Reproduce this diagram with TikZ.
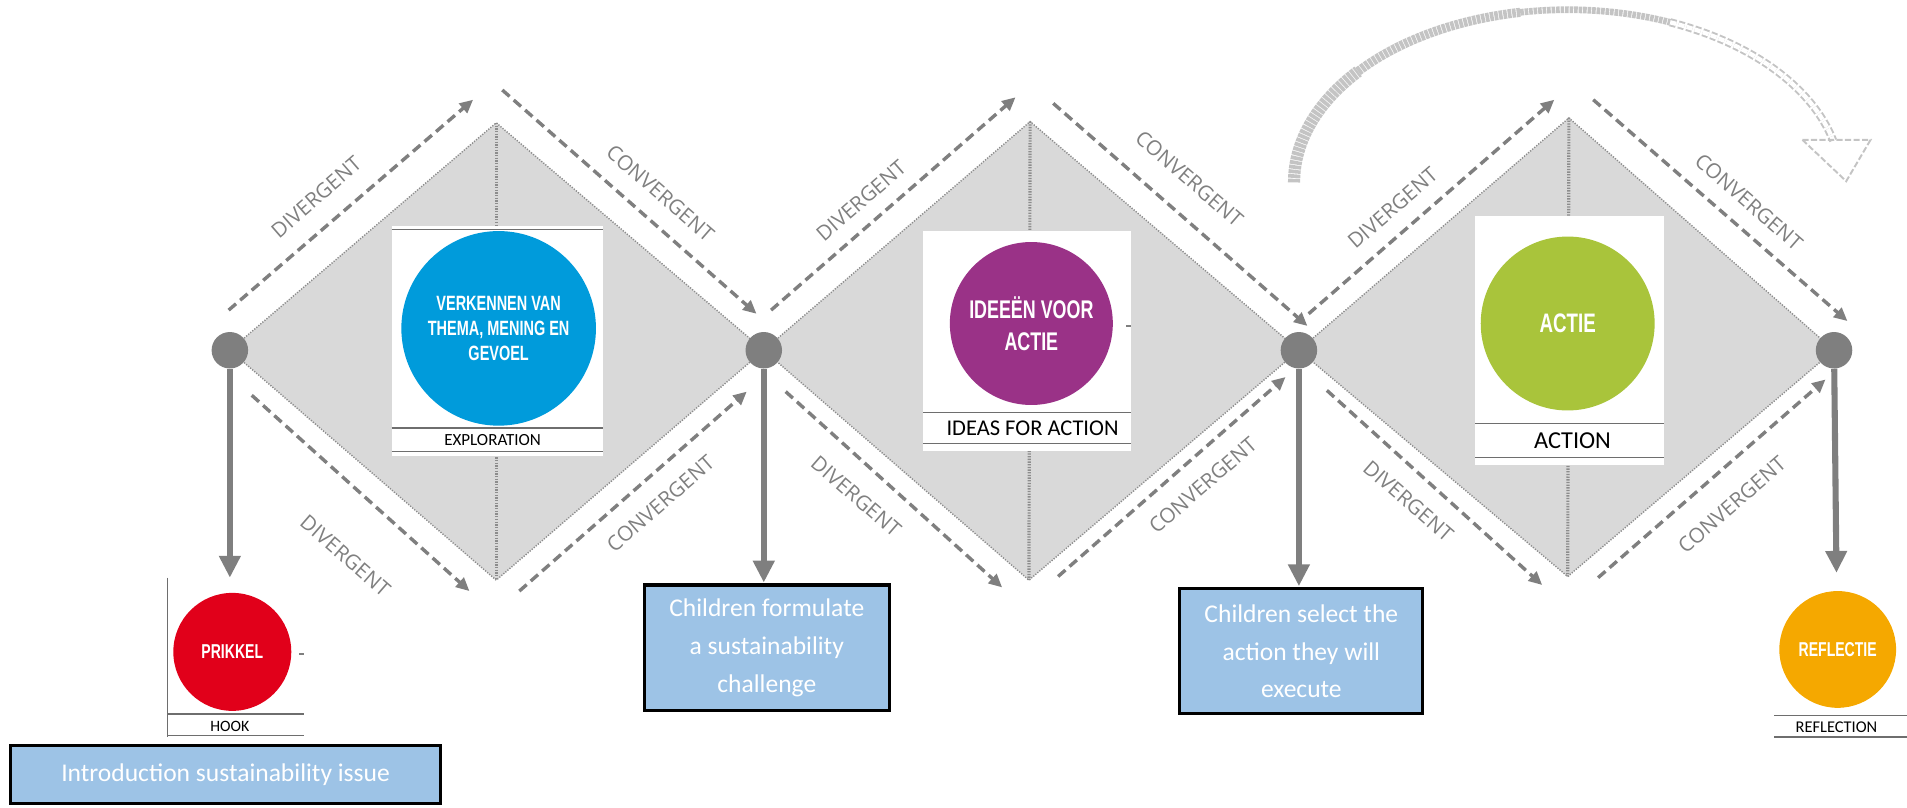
\documentclass[tikz,border=0pt]{standalone}
\usepackage{fontspec}
\setmainfont{Carlito}
\newfontfamily\labfont{Open Sans}
\newfontfamily\dinfont[FakeStretch=0.7]{Liberation Sans}
\usetikzlibrary{arrows.meta}

\definecolor{hubgray}{HTML}{7F7F7F}
\definecolor{labgray}{HTML}{808080}
\definecolor{sheetgray}{HTML}{D9D9D9}
\definecolor{rimgray}{HTML}{8C8C8C}
\definecolor{linegray}{HTML}{6E6E6E}
\definecolor{arcgray}{HTML}{C4C4C4}
\definecolor{exploreblue}{HTML}{009BDB}
\definecolor{ideapurple}{HTML}{9A3287}
\definecolor{actgreen}{HTML}{A9C43B}
\definecolor{hookred}{HTML}{E1001A}
\definecolor{reflectorange}{HTML}{F5A800}
\definecolor{noteblue}{HTML}{9DC3E6}

\begin{document}
\begin{tikzpicture}[x=1pt, y=1pt,
  hub/.style = {circle, fill=hubgray, minimum size=30pt, inner sep=0pt},
  sheet/.style = {fill=sheetgray},
  rim/.style = {draw=rimgray, line width=1.2pt, dash pattern=on 1pt off 1.2pt},
  spine/.style = {draw=rimgray, line width=2.6pt, dash pattern=on 1.1pt off 1.1pt},
  flow/.style = {draw=hubgray, line width=2.8pt, dash pattern=on 8pt off 4.5pt, -{Triangle[length=11pt, width=10pt]}},
  drop/.style = {draw=hubgray, line width=5pt, -{Triangle[length=18pt, width=17pt]}},
  lab/.style = {font=\labfont\fontsize{17}{17}\selectfont, text=labgray, inner sep=0pt},
  card/.style = {fill=white},
  cardline/.style = {draw=linegray, line width=1pt},
  stage/.style = {circle, inner sep=0pt, text=white, align=center},
  caption/.style = {inner sep=0pt, text=black},
  note/.style = {draw=black, line width=2.5pt, fill=noteblue, text=white, align=center, inner sep=0pt, font=\fontsize{21}{31}\selectfont},
  arcband/.style = {draw=arcgray, dash pattern=on 3pt off 0.7pt},
  arcghost/.style = {draw=arcgray, line width=1.6pt, double=white, double distance=3.5pt, dash pattern=on 5pt off 2pt}]

\useasboundingbox (0,0) rectangle (1568,664);

\coordinate (P1) at (189,376);
\coordinate (P2) at (628,376);
\coordinate (P3) at (1068,376);
\coordinate (P4) at (1508,376);

% exploration
\begin{scope}[xshift=408]
\coordinate (T) at (0,563);
\coordinate (B) at (0,187);
\fill[sheet] (P1) -- (T) -- (P2) -- (B) -- cycle;
\draw[rim] (P1) -- (T) -- (P2) -- (B) -- cycle;
\draw[spine] (T) -- (B);

\coordinate (ULs) at (-220,409);
\coordinate (ULe) at (-19,582);
\coordinate (URs) at (5,590);
\coordinate (URe) at (214,406);
\coordinate (LLs) at (-201,339);
\coordinate (LLe) at (-22,178);
\coordinate (LRs) at (19,178);
\coordinate (LRe) at (206,342);

\draw[flow] (ULs) -- (ULe);
\draw[flow] (URs) -- (URe);
\draw[flow] (LLs) -- (LLe);
\draw[flow] (LRs) -- (LRe);

\node[lab, rotate=41] (UL) at (-148,502) {DIVERGENT};
\node[lab, rotate=-41] (UR) at (135,505) {CONVERGENT};
\node[lab, rotate=-41] (LL) at (-124,207) {DIVERGENT};
\node[lab, rotate=41] (LR) at (135,250) {CONVERGENT};

\fill[card] (-86,289) rectangle (88,478);
\draw[cardline] (-86,475) -- (88,475);
\draw[cardline] (-86,312) -- (88,312);
\draw[cardline] (-86,293) -- (88,293);
\node[stage, fill=exploreblue, minimum size=160pt, font=\dinfont\bfseries\fontsize{17}{20.6}\selectfont] (explore) at (2,394) {VERKENNEN VAN\\THEMA, MENING EN\\GEVOEL};
\node[caption, font=\fontsize{14}{14}\selectfont] (exploreC) at (-3,302) {EXPLORATION};
\end{scope}

% ideas for action
\begin{scope}[xshift=848]
\coordinate (T) at (-1,564);
\coordinate (B) at (-2,187);
\fill[sheet] (P2) -- (T) -- (P3) -- (B) -- cycle;
\draw[rim] (P2) -- (T) -- (P3) -- (B) -- cycle;
\draw[spine] (T) -- (B);

\coordinate (ULs) at (-214,409);
\coordinate (ULe) at (-13,584);
\coordinate (URs) at (18,579);
\coordinate (URe) at (227,396);
\coordinate (LLs) at (-202,342);
\coordinate (LLe) at (-24,181);
\coordinate (LRs) at (22,190);
\coordinate (LRe) at (209,354);

\draw[flow] (ULs) -- (ULe);
\draw[flow] (URs) -- (URe);
\draw[flow] (LLs) -- (LLe);
\draw[flow] (LRs) -- (LRe);

\node[lab, rotate=41] (UL) at (-140,499) {DIVERGENT};
\node[lab, rotate=-41] (UR) at (130,517) {CONVERGENT};
\node[lab, rotate=-41] (LL) at (-144,256) {DIVERGENT};
\node[lab, rotate=41] (LR) at (141,265) {CONVERGENT};

\fill[card] (-89,293) rectangle (82,474);
\draw[cardline] (-89,325) -- (82,325);
\draw[cardline] (-89,299.5) -- (82,299.5);
\draw[hubgray, line width=1.5pt] (78,396) -- (82,396);
\node[stage, fill=ideapurple, minimum size=134pt, font=\dinfont\bfseries\fontsize{21}{26}\selectfont] (ideas) at (0,398) {IDEEËN VOOR\\ACTIE};
\node[caption, font=\fontsize{18.5}{18.5}\selectfont] (ideasC) at (1,312) {IDEAS FOR ACTION};
\end{scope}

% action
\begin{scope}[xshift=1288]
\coordinate (T) at (2,567);
\coordinate (B) at (1,190);
\fill[sheet] (P3) -- (T) -- (P4) -- (B) -- cycle;
\draw[rim] (P3) -- (T) -- (P4) -- (B) -- cycle;
\draw[spine] (T) -- (B);

\coordinate (ULs) at (-212,406);
\coordinate (ULe) at (-10,582);
\coordinate (URs) at (22,582);
\coordinate (URe) at (231,400);
\coordinate (LLs) at (-197,343);
\coordinate (LLe) at (-20,183);
\coordinate (LRs) at (26,189);
\coordinate (LRe) at (213,352);

\draw[flow] (ULs) -- (ULe);
\draw[flow] (URs) -- (URe);
\draw[flow] (LLs) -- (LLe);
\draw[flow] (LRs) -- (LRe);

\node[lab, rotate=41] (UL) at (-143,493) {DIVERGENT};
\node[lab, rotate=-41] (UR) at (150,498) {CONVERGENT};
\node[lab, rotate=-41] (LL) at (-130,252) {DIVERGENT};
\node[lab, rotate=41] (LR) at (136,249) {CONVERGENT};

\fill[card] (-75,282) rectangle (80,486);
\draw[cardline] (-75,316) -- (80,316);
\draw[cardline] (-75,288) -- (80,288);
\node[stage, fill=actgreen, minimum size=143pt, font=\dinfont\bfseries\fontsize{22}{22}\selectfont] (act) at (1,398) {ACTIE};
\node[caption, font=\fontsize{20}{20}\selectfont] (actC) at (5,302) {ACTION};
\end{scope}

% repeat arrow
\coordinate (As) at (1064,514);
\draw[arcband, line width=10pt] (As) arc[start angle=180, end angle=140, x radius=225, y radius=142] coordinate (Aa);
\draw[arcband, line width=7.5pt] (Aa) arc[start angle=140, end angle=100, x radius=225, y radius=142] coordinate (Ab);
\draw[arcband, line width=5.5pt] (Ab) arc[start angle=100, end angle=68, x radius=225, y radius=142] coordinate (Am);
\draw[arcghost] (Am) arc[start angle=68, end angle=14, x radius=225, y radius=142];
\coordinate (H1) at (1482,549);
\coordinate (H2) at (1538,549);
\coordinate (H3) at (1518,515);
\draw[draw=arcgray, line width=1.6pt, dash pattern=on 5pt off 2pt] (H1) -- (H2) -- (H3) -- cycle;

% drops
\coordinate (E1) at (189,189);
\coordinate (E2) at (628,185);
\coordinate (E3) at (1068,182);
\coordinate (E4) at (1510,193);

\node[hub] (D1) at (P1) {};
\node[hub] (D2) at (P2) {};
\node[hub] (D3) at (P3) {};
\node[hub] (D4) at (P4) {};

\draw[drop] (D1) -- (E1);
\draw[drop] (D2) -- (E2);
\draw[drop] (D3) -- (E3);
\draw[drop] (D4) -- (E4);

% hook
\draw[cardline] (138,189) -- (138,58);
\draw[cardline] (138,77) -- (250,77);
\draw[cardline] (138,59) -- (250,59);
\draw[hubgray, line width=1.5pt] (246,126) -- (250,126);
\node[stage, fill=hookred, minimum size=97pt, font=\dinfont\bfseries\fontsize{16.5}{16.5}\selectfont] (hook) at (191,128) {PRIKKEL};
\node[caption, font=\fontsize{13}{13}\selectfont] (hookC) at (189,67) {HOOK};

% reflection
\draw[cardline] (1459,76) -- (1568,76);
\draw[cardline] (1459,58) -- (1568,58);
\node[stage, fill=reflectorange, minimum size=96pt, font=\dinfont\bfseries\fontsize{16.5}{16.5}\selectfont] (reflect) at (1511,130) {REFLECTIE};
\node[caption, font=\fontsize{13.5}{13.5}\selectfont] (reflectC) at (1510,66) {REFLECTION};

% notes
\node[note, minimum width=201pt, minimum height=103pt] (chal) at (630.5,131.5) {Children formulate\\a sustainability\\challenge};
\node[note, minimum width=200pt, minimum height=103pt] (pick) at (1070,128.5) {Children select the\\action they will\\execute};
\node[note, minimum width=353pt, minimum height=48pt] (intro) at (185.5,27) {Introduction sustainability issue};

\end{tikzpicture}
\end{document}
